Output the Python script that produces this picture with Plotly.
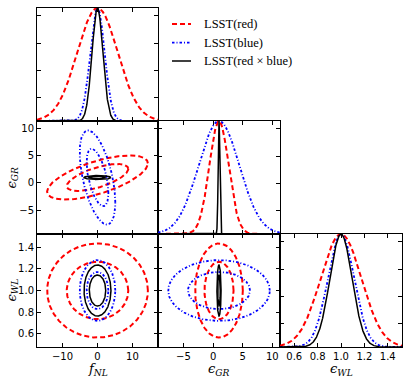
import numpy as np
import plotly.graph_objects as go

# ---------------- data ----------------
param_labels = ["<i>f</i><sub><i>NL</i></sub>",
                "<i>ϵ</i><sub><i>GR</i></sub>",
                "<i>ϵ</i><sub><i>WL</i></sub>"]
fiducial = [0.0, 1.0, 1.0]
sigma_red = [5.8, 1.62, 0.175]
sigma_blue = [2.05, 3.45, 0.113]
sigma_cross = [1.55, 0.14, 0.095]
# correlation coefficients for pairs (fNL,GR), (fNL,WL), (GR,WL)
rho_red = [0.64, 0.0, 0.0]
rho_blue = [-0.53, 0.0, 0.0]
rho_cross = [0.0, 0.0, 0.0]
axis_ranges = [[-17.3, 17.3], [-9.3, 11.3], [0.478, 1.522]]
tick_vals = [[-10, 0, 10], [-5, 0, 5, 10], [0.6, 0.8, 1.0, 1.2, 1.4]]
tick_text = [["−10", "0", "10"], ["−5", "0", "5", "10"],
             ["0.6", "0.8", "1.0", "1.2", "1.4"]]
contour_dchi2 = [2.30, 6.17]
series_names = ["LSST(red)", "LSST(blue)", "LSST(red × blue)"]

# ---------------- styles ----------------
styles = [
    dict(color="#ff0000", width=2, dash="5px,3px"),
    dict(color="#0000ff", width=1.8, dash="2.5px,2px,1px,2px"),
    dict(color="#000000", width=1.5, dash="solid"),
]
sigmas = [sigma_red, sigma_blue, sigma_cross]
rhos = [rho_red, rho_blue, rho_cross]
pair_index = {(0, 1): 0, (0, 2): 1, (1, 2): 2}

W, H = 407, 380
col_px = [(37, 158), (158, 280), (280, 402)]
row_px = [(8, 121), (121, 234), (234, 347)]


def xd(c):
    return [col_px[c][0] / W, col_px[c][1] / W]


def yd(r):
    return [1 - row_px[r][1] / H, 1 - row_px[r][0] / H]


# subplot ids: (row, col) -> n
ids = {(0, 0): 1, (1, 0): 2, (1, 1): 3, (2, 0): 4, (2, 1): 5, (2, 2): 6}

fig = go.Figure()


def ax_name(n, letter):
    return letter if n == 1 else f"{letter}{n}"


def ellipse(mu, s, rho, k):
    t = np.linspace(0, 2 * np.pi, 400)
    C = np.array([[s[0] ** 2, rho * s[0] * s[1]], [rho * s[0] * s[1], s[1] ** 2]])
    L = np.linalg.cholesky(C)
    pts = (L @ np.vstack([np.cos(t), np.sin(t)])) * k
    return mu[0] + pts[0], mu[1] + pts[1]


for (r, c), n in ids.items():
    xa = ax_name(n, "x")
    ya = ax_name(n, "y")
    for si in range(3):
        st = styles[si]
        line = dict(color=st["color"], width=st["width"], dash=st["dash"])
        if r == c:
            x = np.linspace(axis_ranges[c][0], axis_ranges[c][1], 3000)
            y = np.exp(-0.5 * ((x - fiducial[c]) / sigmas[si][c]) ** 2)
            fig.add_trace(go.Scatter(x=x, y=y, mode="lines", line=line,
                                     xaxis=xa, yaxis=ya, showlegend=False,
                                     hoverinfo="skip"))
        else:
            rho = rhos[si][pair_index[(c, r)]]
            for d2 in contour_dchi2:
                ex, ey = ellipse([fiducial[c], fiducial[r]],
                                 [sigmas[si][c], sigmas[si][r]], rho, np.sqrt(d2))
                fig.add_trace(go.Scatter(x=ex, y=ey, mode="lines", line=line,
                                         xaxis=xa, yaxis=ya, showlegend=False,
                                         hoverinfo="skip"))

tickfont = dict(family="DejaVu Sans", size=10, color="black")
layout = dict(width=W, height=H, margin=dict(l=0, r=0, t=0, b=0),
              paper_bgcolor="white", plot_bgcolor="white", showlegend=False)

for (r, c), n in ids.items():
    xk = "xaxis" if n == 1 else f"xaxis{n}"
    yk = "yaxis" if n == 1 else f"yaxis{n}"
    common = dict(showline=True, linecolor="black", linewidth=1, mirror="ticks",
                  ticks="inside", ticklen=4, tickwidth=1, tickcolor="black",
                  showgrid=False, zeroline=False, tickfont=tickfont)
    layout[xk] = dict(common, domain=xd(c), range=axis_ranges[c],
                      tickmode="array", tickvals=tick_vals[c], ticktext=tick_text[c],
                      showticklabels=(r == 2), anchor=ax_name(n, "y"))
    if r == c:
        layout[yk] = dict(common, domain=yd(r), range=[0, 1.0],
                          tickmode="array", tickvals=[0.21, 0.45, 0.69, 0.93],
                          showticklabels=False, anchor=ax_name(n, "x"))
    else:
        layout[yk] = dict(common, domain=yd(r), range=axis_ranges[r],
                          tickmode="array", tickvals=tick_vals[r], ticktext=tick_text[r],
                          showticklabels=(c == 0), anchor=ax_name(n, "x"))

fig.update_layout(**layout)

labfont = dict(family="DejaVu Serif", size=13, color="black")
ann = []
# x-axis labels
for c in range(3):
    ann.append(dict(x=(col_px[c][0] + col_px[c][1]) / 2 / W, y=1 - 369 / H,
                    xref="paper", yref="paper", text=param_labels[c],
                    showarrow=False, font=labfont, xanchor="center", yanchor="middle"))
# y-axis labels
for r in (1, 2):
    ann.append(dict(x=12 / W, y=1 - ((row_px[r][0] + row_px[r][1]) / 2) / H,
                    xref="paper", yref="paper", text=param_labels[r], textangle=-90,
                    showarrow=False, font=labfont, xanchor="center", yanchor="middle"))

# legend
leg_y = [24, 42.7, 61]
shapes = []
for i in range(3):
    st = styles[i]
    shapes.append(dict(type="line", xref="paper", yref="paper",
                       x0=172 / W, x1=191 / W, y0=1 - leg_y[i] / H, y1=1 - leg_y[i] / H,
                       line=dict(color=st["color"], width=st["width"], dash=st["dash"])))
    ann.append(dict(x=202 / W, y=1 - leg_y[i] / H, xref="paper", yref="paper",
                    text=series_names[i], showarrow=False,
                    font=dict(family="Liberation Serif", size=12.5, color="black"),
                    xanchor="left", yanchor="middle"))

fig.update_layout(annotations=ann, shapes=shapes)
fig.write_html("out.html", config={"displayModeBar": False},
               post_script="document.body.style.margin='0';document.body.style.padding='0';")
